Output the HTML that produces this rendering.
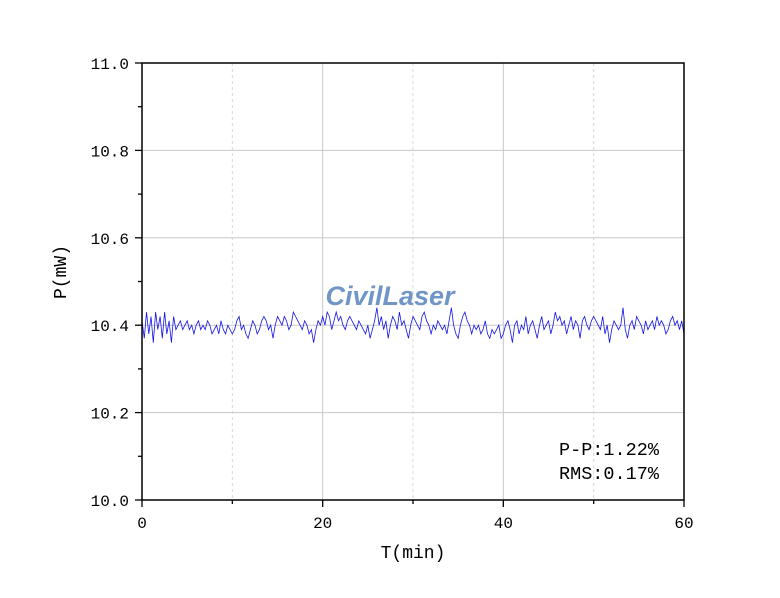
<!DOCTYPE html>
<html><head><meta charset="utf-8"><style>
body{margin:0;background:#fff;width:780px;height:593px;overflow:hidden}
text{font-family:"Liberation Mono","Noto Sans CJK SC",monospace;fill:#000}
</style></head><body>
<svg id="chart" width="780" height="593"></svg>
<script>
const xTicks=[0,20,40,60];
const xMinor=[10,30,50];
const yTicks=[10.0,10.2,10.4,10.6,10.8,11.0];
const yMinor=[10.1,10.3,10.5,10.7,10.9];
const powerValues=[10.41,10.37,10.43,10.38,10.42,10.36,10.43,10.39,10.42,10.37,10.43,10.38,10.41,10.36,10.42,10.39,10.40,10.41,10.39,10.40,
10.41,10.39,10.40,10.38,10.40,10.41,10.39,10.40,10.39,10.41,10.40,10.38,10.39,10.40,10.38,10.41,10.39,10.38,10.40,10.39,
10.38,10.39,10.41,10.42,10.39,10.40,10.38,10.37,10.39,10.41,10.40,10.38,10.39,10.41,10.42,10.41,10.39,10.40,10.37,10.40,
10.42,10.41,10.40,10.42,10.41,10.39,10.40,10.43,10.42,10.41,10.40,10.39,10.41,10.40,10.38,10.39,10.36,10.39,10.41,10.40,
10.42,10.40,10.43,10.42,10.39,10.41,10.43,10.41,10.42,10.40,10.39,10.41,10.42,10.41,10.40,10.39,10.41,10.40,10.39,10.38,
10.40,10.37,10.39,10.41,10.44,10.40,10.42,10.39,10.41,10.37,10.40,10.42,10.41,10.39,10.43,10.40,10.41,10.39,10.37,10.40,
10.42,10.41,10.40,10.39,10.42,10.43,10.41,10.40,10.38,10.40,10.39,10.41,10.40,10.39,10.40,10.38,10.41,10.44,10.40,10.38,
10.37,10.40,10.42,10.43,10.41,10.40,10.38,10.40,10.39,10.40,10.38,10.39,10.41,10.38,10.37,10.39,10.38,10.39,10.40,10.37,
10.38,10.40,10.41,10.39,10.36,10.40,10.41,10.38,10.40,10.39,10.42,10.38,10.40,10.41,10.39,10.37,10.40,10.42,10.39,10.40,
10.41,10.38,10.40,10.43,10.41,10.42,10.40,10.41,10.38,10.40,10.42,10.39,10.41,10.40,10.37,10.41,10.42,10.40,10.39,10.41,
10.42,10.41,10.40,10.39,10.42,10.38,10.40,10.36,10.39,10.41,10.40,10.39,10.40,10.44,10.39,10.37,10.40,10.41,10.39,10.42,
10.41,10.40,10.38,10.41,10.39,10.40,10.41,10.39,10.42,10.40,10.41,10.40,10.38,10.39,10.41,10.42,10.40,10.41,10.39,10.41,10.38];
const xMin=0,xMax=60,yMin=10.0,yMax=11.0;
const L=142,R=684,T=63,B=500;
const sx=v=>L+(v-xMin)/(xMax-xMin)*(R-L);
const sy=v=>B-(v-yMin)/(yMax-yMin)*(B-T);
const svg=document.getElementById('chart');const NS='http://www.w3.org/2000/svg';
function mk(t,a,p){const e=document.createElementNS(NS,t);for(const k in a)e.setAttribute(k,a[k]);(p||svg).appendChild(e);return e;}
xTicks.slice(1,-1).forEach(v=>{const e=mk('line',{x1:sx(v),x2:sx(v),y1:T,y2:B,stroke:'#c8c8c8'});

});
xMinor.forEach(v=>{const e=mk('line',{x1:sx(v),x2:sx(v),y1:T,y2:B,stroke:'#d8d8d8','stroke-dasharray':'3,3'});

});
yTicks.slice(1,-1).forEach(v=>{const e=mk('line',{x1:L,x2:R,y1:sy(v),y2:sy(v),stroke:'#c8c8c8'});

});
const wm=mk('text',{x:390,y:305,'text-anchor':'middle','font-size':'27','font-style':'italic','font-weight':'bold',style:'font-family:"Liberation Sans",sans-serif;fill:#7096c6'});
wm.textContent='CivilLaser';


let d='';const n=powerValues.length;
powerValues.forEach((v,i)=>{d+=(i?'L':'M')+sx(i*(xMax-xMin)/(n-1)).toFixed(1)+','+sy(v).toFixed(1);});
const ln=mk('path',{d:d,fill:'none',stroke:'#1414e6','stroke-width':'0.8'});


const fr=mk('rect',{x:L,y:T,width:R-L,height:B-T,fill:'none',stroke:'#000','stroke-width':'1.5'});


xTicks.forEach(v=>{mk('line',{x1:sx(v),x2:sx(v),y1:B,y2:B+7,stroke:'#000','stroke-width':'1.3'});
const t=mk('text',{x:sx(v),y:B+28,'text-anchor':'middle','font-size':'16'});t.textContent=v;

});
xMinor.forEach(v=>mk('line',{x1:sx(v),x2:sx(v),y1:B,y2:B+4,stroke:'#000','stroke-width':'1.3'}));
yTicks.forEach(v=>{mk('line',{x1:L-7,x2:L,y1:sy(v),y2:sy(v),stroke:'#000','stroke-width':'1.3'});
const t=mk('text',{x:L-13,y:sy(v)+6,'text-anchor':'end','font-size':'16'});t.textContent=v.toFixed(1);

});
yMinor.forEach(v=>mk('line',{x1:L-4,x2:L,y1:sy(v),y2:sy(v),stroke:'#000','stroke-width':'1.3'}));
const xt=mk('text',{x:sx(30),y:558,'text-anchor':'middle','font-size':'18'});xt.textContent='T(min)';


const yt=mk('text',{x:0,y:0,'text-anchor':'middle','font-size':'18',transform:'translate(66,272) rotate(-90)'});yt.textContent='P(mW)';


const a1=mk('text',{x:559,y:455,'font-size':'18.5'});a1.textContent='P-P:1.22%';


const a2=mk('text',{x:559,y:479,'font-size':'18.5'});a2.textContent='RMS:0.17%';


</script>
</body></html>
